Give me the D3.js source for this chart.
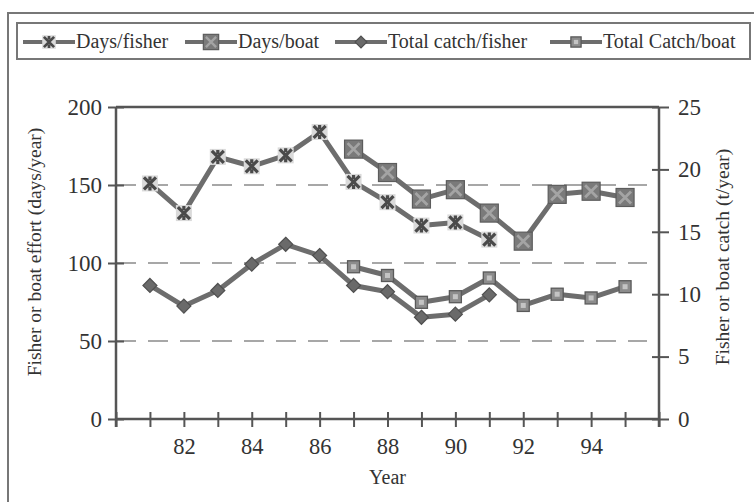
<!DOCTYPE html>
<html>
<head>
<meta charset="utf-8">
<script src="https://cdn.jsdelivr.net/npm/d3@7"></script>
<style>
  body { margin: 0; background: #fff; }
  text { font-family: "Liberation Serif", "Times New Roman", serif; fill: #333; }
</style>
</head>
<body>
<script>
// data
var years = [81, 82, 83, 84, 85, 86, 87, 88, 89, 90, 91, 92, 93, 94, 95];
var yearLabels = [82, 84, 86, 88, 90, 92, 94];
var daysFisher = [151, 132, 168, 162, 169, 184, 152, 139, 124, 126, 115];          // 81-91
var daysBoat = [173, 158, 141, 147, 132, 114, 144, 146, 142];                       // 87-95
var catchFisher = [10.7, 9.05, 10.3, 12.4, 14.0, 13.1, 10.7, 10.2, 8.15, 8.4, 9.95]; // 81-91
var catchBoat = [12.2, 11.5, 9.35, 9.8, 11.3, 9.1, 10.0, 9.7, 10.6];               // 87-95
var leftTicks = [0, 50, 100, 150, 200];
var rightTicks = [0, 5, 10, 15, 20, 25];
var gridVals = [50, 100, 150];

var width = 754;
var height = 502;
var plot = { left: 116, right: 659, top: 107, bottom: 419 };
var axisColor = '#555';
var lineColor = '#6d6d6d';

var svg = d3.select('body')
  .append('svg')
  .attr('width', width)
  .attr('height', height);

// outer frame + legend box
svg.append('rect')
  .attr('x', 8).attr('y', 13).attr('width', 770).attr('height', 520)
  .attr('fill', 'none').attr('stroke', '#777').attr('stroke-width', 2);
svg.append('rect')
  .attr('x', 17).attr('y', 23).attr('width', 733).attr('height', 36)
  .attr('fill', 'none').attr('stroke', '#777').attr('stroke-width', 2);

var xScale = d3.scaleLinear().domain([80, 96]).range([plot.left, plot.right]);
var yLeft = d3.scaleLinear().domain([0, 200]).range([plot.bottom, plot.top]);
var yRight = d3.scaleLinear().domain([0, 25]).range([plot.bottom, plot.top]);

// dashed gridlines
svg.append('g')
  .selectAll('line')
  .data(gridVals)
  .enter()
  .append('line')
  .attr('x1', plot.left)
  .attr('x2', plot.right - 12)
  .attr('y1', function (d) { return yLeft(d); })
  .attr('y2', function (d) { return yLeft(d); })
  .attr('stroke', '#8a8a8a')
  .attr('stroke-width', 1.5)
  .attr('stroke-dasharray', '20,12');

// top border of plot
svg.append('line')
  .attr('x1', plot.left).attr('x2', plot.right)
  .attr('y1', plot.top).attr('y2', plot.top)
  .attr('stroke', axisColor).attr('stroke-width', 2.5);

function styleAxis(g, crossIn, crossOut, vertical) {
  g.select('.domain').attr('stroke', axisColor).attr('stroke-width', 2.5);
  g.selectAll('.tick line')
    .attr('stroke', axisColor)
    .attr('stroke-width', 2);
  if (vertical) {
    g.selectAll('.tick line').attr('y1', -crossIn).attr('y2', crossOut);
  } else {
    g.selectAll('.tick line').attr('x1', -crossIn).attr('x2', crossOut);
  }
  g.selectAll('.tick text')
    .style('font-family', '"Liberation Serif", serif')
    .attr('fill', '#333');
}

var xAxis = d3.axisBottom(xScale)
  .tickValues(d3.range(80, 97))
  .tickSize(0)
  .tickFormat(function (d) { return yearLabels.indexOf(d) >= 0 ? d : ''; });
var gx = svg.append('g')
  .attr('transform', 'translate(0,' + plot.bottom + ')')
  .call(xAxis);
gx.selectAll('.tick text').attr('y', 19).attr('font-size', 22.5);
styleAxis(gx, 7, 8, true);
gx.select('.domain').attr('d', 'M' + plot.left + ',0H' + plot.right);

var gl = svg.append('g')
  .attr('transform', 'translate(' + plot.left + ',0)')
  .call(d3.axisLeft(yLeft).tickValues(leftTicks).tickSize(0));
gl.selectAll('.tick text').attr('x', -14).attr('font-size', 23);
styleAxis(gl, 8, 8, false);
gl.select('.domain').attr('d', 'M0,' + plot.top + 'V' + (plot.bottom + 8));

var gr = svg.append('g')
  .attr('transform', 'translate(' + plot.right + ',0)')
  .call(d3.axisRight(yRight).tickValues(rightTicks).tickSize(0));
gr.selectAll('.tick text').attr('x', 19).attr('font-size', 23);
styleAxis(gr, 7, 10, false);
gr.select('.domain').attr('d', 'M0,' + plot.top + 'V' + (plot.bottom + 8));

// axis titles
svg.append('text')
  .attr('x', (plot.left + plot.right) / 2)
  .attr('y', 484)
  .attr('text-anchor', 'middle')
  .attr('font-size', 20)
  .text('Year');
svg.append('text')
  .attr('transform', 'translate(41,252) rotate(-90)')
  .attr('text-anchor', 'middle')
  .attr('font-size', 19.5)
  .text('Fisher or boat effort (days/year)');
svg.append('text')
  .attr('transform', 'translate(729,257) rotate(-90)')
  .attr('text-anchor', 'middle')
  .attr('font-size', 19.5)
  .text('Fisher or boat catch (t/year)');

// markers
function drawMarker(g, type, x, y, s) {
  s = s || 1;
  if (type === 'xLight') {
    g.append('rect').attr('x', x - 8 * s).attr('y', y - 8 * s)
      .attr('width', 16 * s).attr('height', 16 * s).attr('fill', '#dadada');
    g.append('path')
      .attr('d', 'M' + (x - 6 * s) + ',' + (y - 6 * s) + 'L' + (x + 6 * s) + ',' + (y + 6 * s) +
        'M' + (x + 6 * s) + ',' + (y - 6 * s) + 'L' + (x - 6 * s) + ',' + (y + 6 * s) +
        'M' + x + ',' + (y - 7 * s) + 'V' + (y - 3 * s) + 'M' + x + ',' + (y + 3 * s) + 'V' + (y + 7 * s))
      .attr('stroke', '#4a4a4a').attr('stroke-width', 3.2 * s).attr('fill', 'none');
  } else if (type === 'xBox') {
    g.append('rect').attr('x', x - 9 * s).attr('y', y - 9 * s)
      .attr('width', 18 * s).attr('height', 18 * s)
      .attr('fill', '#7a7a7a').attr('stroke', '#5c5c5c').attr('stroke-width', 1.2);
    g.append('path')
      .attr('d', 'M' + (x - 6 * s) + ',' + (y - 6 * s) + 'L' + (x + 6 * s) + ',' + (y + 6 * s) +
        'M' + (x + 6 * s) + ',' + (y - 6 * s) + 'L' + (x - 6 * s) + ',' + (y + 6 * s))
      .attr('stroke', '#a4a4a4').attr('stroke-width', 2.8 * s).attr('fill', 'none');
  } else if (type === 'diamond') {
    g.append('path')
      .attr('d', 'M' + x + ',' + (y - 7 * s) + 'L' + (x + 7 * s) + ',' + y +
        'L' + x + ',' + (y + 7 * s) + 'L' + (x - 7 * s) + ',' + y + 'Z')
      .attr('fill', '#6a6a6a').attr('stroke', '#505050').attr('stroke-width', 1.2);
  } else {
    g.append('rect').attr('x', x - 6 * s).attr('y', y - 6 * s)
      .attr('width', 12 * s).attr('height', 12 * s)
      .attr('fill', '#8c8c8c').attr('stroke', '#5a5a5a').attr('stroke-width', 1.3);
    g.append('rect').attr('x', x - 2.5 * s).attr('y', y - 2.5 * s)
      .attr('width', 5 * s).attr('height', 5 * s).attr('fill', '#c4c4c4');
  }
}

var series = [
  { name: 'Days/fisher', start: 81, values: daysFisher, scale: yLeft, marker: 'xLight' },
  { name: 'Days/boat', start: 87, values: daysBoat, scale: yLeft, marker: 'xBox' },
  { name: 'Total catch/fisher', start: 81, values: catchFisher, scale: yRight, marker: 'diamond' },
  { name: 'Total Catch/boat', start: 87, values: catchBoat, scale: yRight, marker: 'square' }
];

series.forEach(function (s) {
  var pts = s.values.map(function (v, i) { return { x: s.start + i, y: v }; });
  var line = d3.line()
    .x(function (d) { return xScale(d.x); })
    .y(function (d) { return s.scale(d.y); });
  svg.append('path')
    .attr('d', line(pts))
    .attr('fill', 'none')
    .attr('stroke', lineColor)
    .attr('stroke-width', 5)
    .attr('stroke-linejoin', 'round');
  var g = svg.append('g');
  pts.forEach(function (d) {
    drawMarker(g, s.marker, xScale(d.x), s.scale(d.y), 1);
  });
});

// legend
var legendX = [23, 185, 335, 550];
var lg = svg.append('g');
series.forEach(function (s, i) {
  var x0 = legendX[i];
  lg.append('line')
    .attr('x1', x0).attr('x2', x0 + 52)
    .attr('y1', 42).attr('y2', 42)
    .attr('stroke', lineColor).attr('stroke-width', 4);
  drawMarker(lg, s.marker, x0 + 26, 42, 0.85);
  lg.append('text')
    .attr('x', x0 + 53)
    .attr('y', 48)
    .attr('font-size', 20)
    .text(s.name);
});
</script>
</body>
</html>
